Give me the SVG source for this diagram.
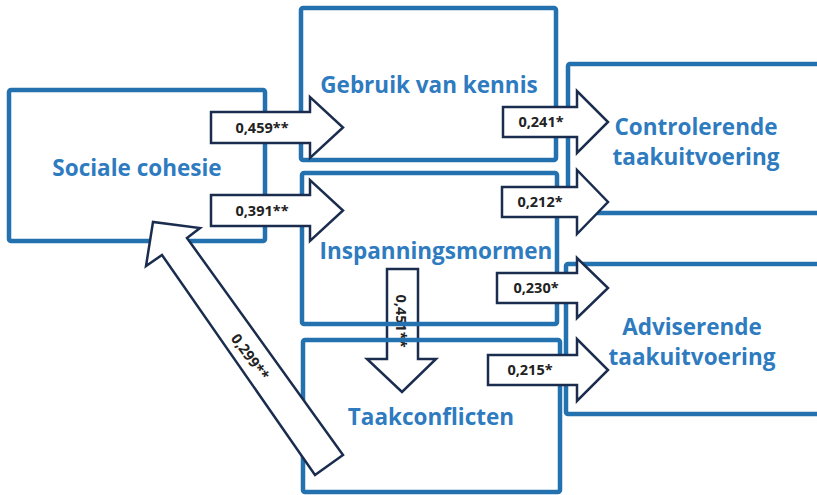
<svg xmlns="http://www.w3.org/2000/svg" width="817" height="495" viewBox="0 0 817 495">
<style>
.box{fill:none;stroke:#2471b0;stroke-width:4.5;}
.lbl{font-family:"Open Sans","Liberation Sans",sans-serif;font-weight:bold;font-size:22.5px;fill:#2e7bbf;text-anchor:middle;}
.arr{fill:#ffffff;stroke:#1b2d4f;stroke-width:2.5;stroke-linejoin:miter;}
.num{font-family:"Open Sans","Liberation Sans",sans-serif;font-weight:bold;font-size:14.5px;fill:#222222;text-anchor:middle;}
</style>
<rect x="0" y="0" width="817" height="495" fill="#ffffff"/>
<g id="connectors-back">
<g id="arrow-ins-taak">
<polygon class="arr" points="387,269 418,269 418,359 436,359 402,392 367,359 387,359"/>
<text class="num" transform="translate(396,321) rotate(90)">0,451**</text>
</g>
</g>
<g id="node-sociale"><rect class="box" x="9" y="90" width="256" height="151" rx="2"/><text class="lbl" x="137" y="176">Sociale cohesie</text></g>
<g id="node-gebruik"><rect class="box" x="301" y="8" width="255" height="152" rx="2"/><text class="lbl" x="429" y="93">Gebruik van kennis</text></g>
<g id="node-inspanning"><rect class="box" x="302" y="173" width="255" height="151" rx="2"/><text class="lbl" x="436" y="259">Inspanningsmormen</text></g>
<g id="node-taak"><rect class="box" x="303" y="340" width="257" height="152" rx="2"/><text class="lbl" x="431" y="425">Taakconflicten</text></g>
<g id="node-controlerende"><rect class="box" x="568" y="64" width="262" height="149" rx="2"/><text class="lbl" x="696" y="135">Controlerende</text><text class="lbl" x="696" y="165">taakuitvoering</text></g>
<g id="node-adviserende"><rect class="box" x="566" y="264" width="264" height="150" rx="2"/><text class="lbl" x="692" y="335">Adviserende</text><text class="lbl" x="692" y="365">taakuitvoering</text></g>
<g id="connectors">
<g id="arrow-soc-gebr"><polygon class="arr" points="211,112 310,112 310,97 343,127.5 310,158 310,143 211,143"/><text class="num" x="262" y="133">0,459**</text></g>
<g id="arrow-soc-insp"><polygon class="arr" points="211,195 310,195 310,180 343,210.5 310,241 310,226 211,226"/><text class="num" x="262" y="216">0,391**</text></g>
<g id="arrow-gebr-contr"><polygon class="arr" points="503,107 577,107 577,91 608,122 577,153 577,137 503,137"/><text class="num" x="541" y="127">0,241*</text></g>
<g id="arrow-insp-contr"><polygon class="arr" points="502,187 577,187 577,170 608,202 577,234 577,217 502,217"/><text class="num" x="540" y="207">0,212*</text></g>
<g id="arrow-insp-adv"><polygon class="arr" points="497,273 577,273 577,258 608,288 577,318 577,303 497,303"/><text class="num" x="536" y="293">0,230*</text></g>
<g id="arrow-taak-adv"><polygon class="arr" points="488,355 577,355 577,339 608,370 577,401 577,385 488,385"/><text class="num" x="530" y="375">0,215*</text></g>
<g id="arrow-taak-soc"><polygon class="arr" points="153,222 146,266 162,255 315,475 343,455 187,238 200,228"/><text class="num" transform="translate(250,357) rotate(54)" dy="5">0,299**</text></g>
</g>
</svg>
